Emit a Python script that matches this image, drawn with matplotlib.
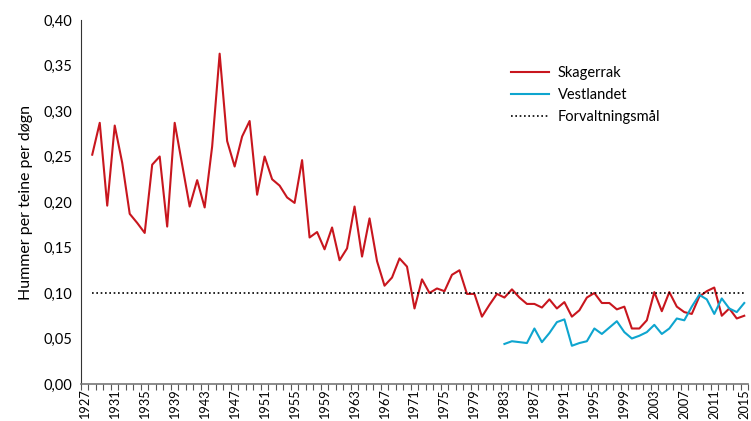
import matplotlib
matplotlib.use("Agg")
import matplotlib.pyplot as plt
import numpy as np

plt.rcParams['font.family'] = ['Lato', 'DejaVu Sans']

years = list(range(1927, 2016))

skagerrak_years = list(range(1928, 2016))
skagerrak = [
    0.252, 0.287, 0.196, 0.284, 0.243, 0.187, 0.177, 0.166, 0.241, 0.250,  # 1928-1937
    0.173, 0.287, 0.241, 0.195, 0.224, 0.194, 0.261, 0.363, 0.267, 0.239,  # 1938-1947
    0.272, 0.289, 0.208, 0.250, 0.225, 0.218, 0.205, 0.199, 0.246, 0.161,  # 1948-1957
    0.167, 0.148, 0.172, 0.136, 0.149, 0.195, 0.140, 0.182, 0.135, 0.108,  # 1958-1967
    0.117, 0.138, 0.129, 0.083, 0.115, 0.100, 0.105, 0.102, 0.120, 0.125,  # 1968-1977
    0.099, 0.099, 0.074, 0.087, 0.099, 0.095, 0.104, 0.095, 0.088, 0.088,  # 1978-1987
    0.084, 0.093, 0.083, 0.090, 0.074, 0.081, 0.095, 0.100, 0.089, 0.089,  # 1988-1997
    0.082, 0.085, 0.061, 0.061, 0.070, 0.101, 0.080, 0.101, 0.085, 0.079,  # 1998-2007
    0.077, 0.096, 0.102, 0.106, 0.075, 0.083, 0.072, 0.075,                # 2008-2015
]

vestlandet_years = list(range(1983, 2016))
vestlandet = [
    0.044, 0.047, 0.046, 0.045, 0.061, 0.046, 0.056, 0.068, 0.071, 0.042,  # 1983-1992
    0.045, 0.047, 0.061, 0.055, 0.062, 0.069, 0.057, 0.050, 0.053, 0.057,  # 1993-2002
    0.065, 0.055, 0.061, 0.072, 0.070, 0.085, 0.098, 0.093, 0.077, 0.094,  # 2003-2012
    0.083, 0.079, 0.089,                                                  # 2013-2015
]

maal_years = list(range(1928, 2016))
maal = [0.10] * len(maal_years)

labels = ["Skagerrak", "Vestlandet", "Forvaltningsmål"]
yticks = [0.00, 0.05, 0.10, 0.15, 0.20, 0.25, 0.30, 0.35, 0.40]
xtick_years = list(range(1927, 2016, 4))

red = '#c8161e'
blue = '#0ea5cf'

fig = plt.figure(figsize=(7.51, 4.21), dpi=100)
ax = fig.add_axes([81/751, (421-384)/421, 667/751, 364/421])

idx = {y: i for i, y in enumerate(years)}
ax.plot([idx[y] for y in skagerrak_years], skagerrak, color=red, lw=1.5, label=labels[0])
ax.plot([idx[y] for y in vestlandet_years], vestlandet, color=blue, lw=1.5, label=labels[1])
ax.plot([idx[y] for y in maal_years], maal, color='black', lw=1.2, ls=(0, (1, 1.6)), label=labels[2])

ax.set_xlim(-0.5, len(years) - 0.5)
ax.set_ylim(0, 0.40)
ax.set_yticks(yticks)
ax.set_yticklabels([f"{v:.2f}".replace('.', ',') for v in yticks], fontsize=10.5)
ax.tick_params(axis='y', length=0, pad=6)

ax.set_xticks([idx[y] for y in xtick_years])
ax.set_xticklabels([str(y) for y in xtick_years], rotation=90, fontsize=9.2)
ax.set_xticks(np.arange(-0.5, len(years), 1.0), minor=True)
ax.tick_params(axis='x', which='major', length=0, pad=4)
ax.tick_params(axis='x', which='minor', length=4, width=0.8, color='#555555')

for s in ['top', 'right']:
    ax.spines[s].set_visible(False)
ax.spines['left'].set_color('#333333')
ax.spines['bottom'].set_color('#777777')
ax.spines['bottom'].set_linewidth(1.2)

ax.set_ylabel("Hummer per teine per døgn", fontsize=11.5, labelpad=8)

leg = ax.legend(loc='upper left', bbox_to_anchor=(0.625, 0.91), frameon=False,
                fontsize=10.5, handlelength=2.6, labelspacing=0.55, handletextpad=0.6)

fig.savefig("out.png", dpi=100)
